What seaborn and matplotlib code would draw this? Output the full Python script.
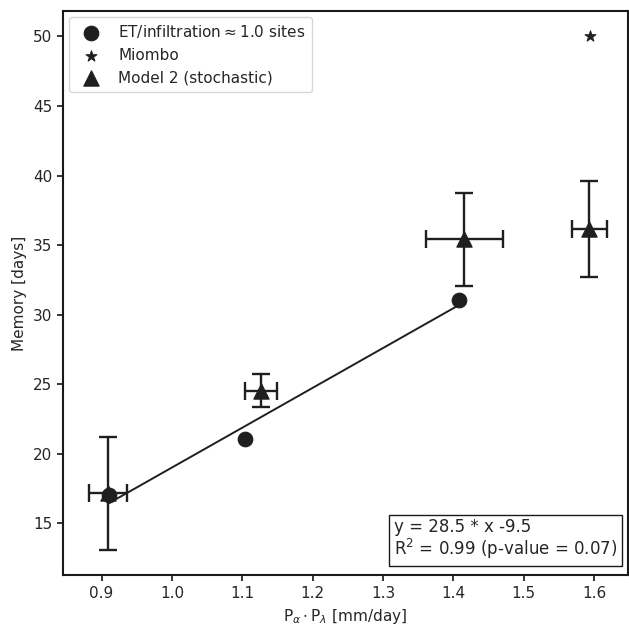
import numpy as np
import pandas as pd
import matplotlib
matplotlib.use("Agg")
import matplotlib.pyplot as plt
import seaborn as sns

# ---- data ----
site_x = [0.911, 1.1045, 1.408]
site_y = [17.05, 21.07, 31.06]

miombo_x = [1.594]
miombo_y = [50.0]

model_x = [0.909, 1.127, 1.4155, 1.5936]
model_y = [17.17, 24.55, 35.41, 36.17]
model_xerr = [0.0275, 0.023, 0.055, 0.0253]
model_yerr = [4.07, 1.18, 3.33, 3.43]

fit_text = "y = 28.5 * x -9.5\nR$^2$ = 0.99 (p-value = 0.07)"
xlabel = r"P$_\alpha\cdot$P$_\lambda$ [mm/day]"
ylabel = "Memory [days]"

sns.set_style("ticks")
plt.rcParams["font.family"] = ["DejaVu Sans"]

fig = plt.figure(figsize=(6.29, 6.25), dpi=100)
ax = fig.add_axes([0.1006, 0.08, 0.8974, 0.9024])

col = "0.12"

# regression line over the site range
coef = np.polyfit(site_x, site_y, 1)
lx = np.array([min(site_x), max(site_x)])
ax.plot(lx, np.polyval(coef, lx), color=col, lw=1.4, zorder=2)

sns.scatterplot(x=site_x, y=site_y, marker="o", s=110, color=col,
                edgecolor=col, label="ET/infiltration$\\approx$1.0 sites", ax=ax, zorder=3)
sns.scatterplot(x=miombo_x, y=miombo_y, marker="*", s=70, color=col,
                edgecolor=col, label="Miombo", ax=ax, zorder=3)
ax.errorbar(model_x, model_y, xerr=model_xerr, yerr=model_yerr, fmt="none",
            ecolor=col, elinewidth=1.7, capsize=6.5, capthick=1.7, zorder=2)
sns.scatterplot(x=model_x, y=model_y, marker="^", s=120, color=col,
                edgecolor=col, label="Model 2 (stochastic)", ax=ax, zorder=4)

ax.set_xlim(0.8455, 1.648)
ax.set_ylim(11.3, 51.82)
ax.set_xticks([0.9, 1.0, 1.1, 1.2, 1.3, 1.4, 1.5, 1.6])
ax.set_yticks([15, 20, 25, 30, 35, 40, 45, 50])
ax.set_xlabel(xlabel, fontsize=11, labelpad=4)
ax.set_ylabel(ylabel, fontsize=11)
ax.tick_params(labelsize=11, length=4.5, width=1.3)
for s in ax.spines.values():
    s.set_color("0.1")
    s.set_linewidth(1.5)

ax.legend(loc="upper left", fontsize=11, frameon=True, borderaxespad=0.4)
ax.text(0.981, 0.025, fit_text, transform=ax.transAxes, ha="right", va="bottom",
        multialignment="left", fontsize=12, linespacing=1.05,
        bbox=dict(boxstyle="square,pad=0.3", fc="white", ec="0.1", lw=1))

fig.savefig("out.png", dpi=100)
